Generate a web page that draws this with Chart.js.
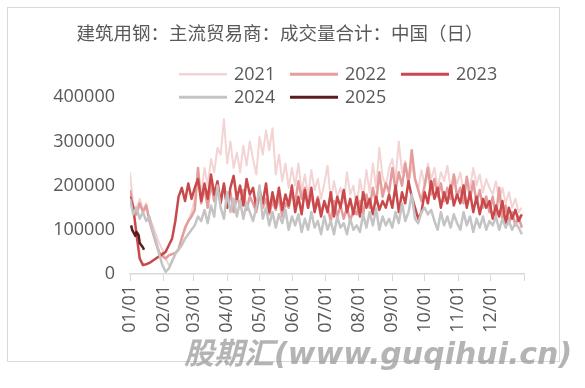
<!DOCTYPE html>
<html>
<head>
<meta charset="utf-8">
<script src="https://cdn.jsdelivr.net/npm/chart.js@4.4.1/dist/chart.umd.min.js"></script>
<style>
  body { margin: 0; background: #fff; width: 585px; height: 388px; overflow: hidden; position: relative; }
  #box { position: absolute; left: 7px; top: 7px; width: 551px; height: 353px; border: 1px solid #d9d9d9; }
  #mark { position: absolute; left: 184px; top: 337px; font: italic bold 30px "DejaVu Sans", "Noto Sans CJK SC", sans-serif; color: rgba(140, 140, 140, 0.65); white-space: nowrap; line-height: 34px; }
</style>
</head>
<body>
<div id="box"><canvas id="steelChart"></canvas></div>
<div id="mark">股期汇(www.guqihui.cn)</div>
<script>
// day of year for each reading (roughly every 3 days)
const days = [1,4,7,10,13,16,19,22,25,28,31,34,37,40,43,46,49,52,55,58,61,64,67,70,73,76,79,82,85,88,
  91,94,97,100,103,106,109,112,115,118,121,124,127,130,133,136,139,142,145,148,151,154,157,160,163,166,169,172,175,178,
  181,184,187,190,193,196,199,202,205,208,211,214,217,220,223,226,229,232,235,238,241,244,247,250,253,256,259,262,265,268,
  271,274,277,280,283,286,289,292,295,298,301,304,307,310,313,316,319,322,325,328,331,334,337,340,343,346,349,352,355,358,361,364];

const vol2021 = [230000,155000,150000,170000,145000,160000,125000,110000,90000,70000,55000,
  35000,20000,25000,45000,60000,85000,100000,120000,140000,
  170000,215000,185000,240000,200000,260000,230000,285000,270000,350000,
  250000,300000,240000,275000,230000,290000,245000,300000,260000,225000,
  310000,270000,325000,280000,330000,225000,270000,210000,250000,195000,240000,
  200000,250000,185000,225000,175000,235000,190000,215000,170000,205000,
  245000,165000,210000,175000,195000,160000,230000,180000,200000,150000,
  215000,170000,235000,185000,250000,195000,285000,220000,200000,240000,
  260000,215000,300000,230000,255000,205000,245000,215000,190000,235000,
  200000,250000,215000,240000,195000,230000,210000,245000,195000,225000,205000,
  230000,185000,215000,195000,240000,200000,225000,185000,215000,195000,
  180000,210000,165000,195000,160000,185000,150000,170000,140000,150000];

const vol2022 = [190000,150000,135000,160000,140000,155000,120000,95000,70000,50000,40000,
  35000,42000,45000,48000,55000,80000,105000,120000,130000,
  145000,240000,160000,195000,150000,205000,165000,190000,170000,200000,
  150000,185000,140000,175000,155000,190000,145000,175000,160000,140000,
  180000,150000,170000,135000,165000,145000,175000,130000,160000,150000,185000,
  160000,210000,170000,195000,150000,180000,145000,175000,140000,160000,
  150000,120000,165000,130000,155000,125000,150000,120000,145000,135000,
  165000,135000,180000,150000,195000,160000,230000,175000,205000,185000,
  240000,190000,230000,200000,250000,205000,280000,215000,190000,165000,
  200000,240000,180000,215000,175000,205000,165000,195000,170000,225000,175000,
  195000,160000,220000,170000,210000,160000,190000,150000,175000,140000,
  175000,130000,195000,125000,155000,115000,140000,110000,130000,105000];

const vol2023 = [175000,150000,90000,35000,20000,22000,25000,30000,35000,40000,45000,
  50000,65000,80000,120000,175000,195000,165000,205000,170000,
  195000,215000,165000,205000,170000,225000,180000,210000,160000,205000,
  150000,195000,222000,170000,200000,155000,215000,180000,195000,150000,
  190000,160000,205000,140000,185000,150000,195000,145000,180000,155000,200000,
  140000,175000,135000,190000,150000,195000,140000,170000,130000,165000,
  140000,185000,130000,175000,150000,190000,140000,170000,135000,175000,
  130000,185000,150000,170000,135000,175000,145000,165000,150000,180000,
  150000,200000,140000,185000,160000,210000,175000,150000,125000,140000,
  185000,160000,210000,170000,195000,150000,185000,160000,200000,155000,180000,
  160000,200000,150000,185000,140000,175000,135000,170000,150000,165000,
  125000,155000,130000,165000,115000,150000,125000,145000,120000,135000];

const vol2024 = [170000,135000,150000,125000,140000,120000,130000,100000,75000,45000,20000,
  5000,12000,30000,45000,55000,65000,80000,90000,100000,
  110000,130000,120000,145000,115000,155000,130000,200000,150000,125000,
  185000,140000,170000,130000,165000,125000,160000,140000,120000,150000,
  200000,125000,150000,110000,140000,105000,135000,115000,145000,100000,130000,
  110000,135000,95000,125000,100000,140000,105000,120000,90000,130000,
  100000,120000,90000,130000,105000,115000,90000,125000,100000,110000,
  95000,135000,105000,140000,110000,148000,100000,130000,110000,125000,
  105000,140000,115000,160000,120000,140000,180000,125000,115000,140000,
  150000,135000,145000,120000,100000,140000,110000,130000,105000,135000,115000,
  100000,140000,110000,130000,95000,125000,105000,130000,100000,120000,
  110000,130000,100000,125000,105000,120000,100000,115000,105000,90000];

const days2025 = [2,3,6,7,8,9,10,13,14];
const vol2025 = [110000,100000,86000,95000,92000,88000,70000,60000,55000];

const monthStarts = [1,32,60,91,121,152,182,213,244,274,305,335,366];
const monthLabels = ['01/01','02/01','03/01','04/01','05/01','06/01','07/01','08/01','09/01','10/01','11/01','12/01',''];

const seriesNames = ['2021','2022','2023','2024','2025'];
const seriesColors = ['#f3d3d3','#e49c9c','#c9494b','#c4c4c4','#5c1b1f'];
const seriesWidths = [2, 2.5, 2.5, 2.5, 2.5];

function toPoints(xs, ys) {
  return xs.map((x, i) => ({ x: x, y: ys[i] }));
}

const seriesData = [
  toPoints(days, vol2021),
  toPoints(days, vol2022),
  toPoints(days, vol2023),
  toPoints(days, vol2024),
  toPoints(days2025, vol2025)
];

const textColor = '#595959';
const tickFont = { family: '"Open Sans", sans-serif', size: 18 };

// legend drawn in two rows like the original (3 + 2)
const yearLegend = {
  id: 'yearLegend',
  afterDraw(chart) {
    const ctx = chart.ctx;
    const area = chart.chartArea;
    ctx.save();
    ctx.font = '18px "Open Sans", sans-serif';
    ctx.textBaseline = 'middle';
    ctx.fillStyle = textColor;
    chart.data.datasets.forEach((ds, k) => {
      const row = k < 3 ? 0 : 1;
      const col = k < 3 ? k : k - 3;
      const x0 = area.left + 49 + col * 111;
      const y0 = area.top - 23 + row * 23;
      ctx.strokeStyle = ds.borderColor;
      ctx.lineWidth = ds.borderWidth + 0.5;
      ctx.beginPath();
      ctx.moveTo(x0, y0);
      ctx.lineTo(x0 + 48, y0);
      ctx.stroke();
      ctx.fillText(ds.label, x0 + 55, y0 + 1);
    });
    ctx.restore();
  }
};

new Chart(document.getElementById('steelChart'), {
  type: 'line',
  data: {
    datasets: seriesNames.map((name, k) => ({
      label: name,
      data: seriesData[k],
      borderColor: seriesColors[k],
      backgroundColor: seriesColors[k],
      borderWidth: seriesWidths[k],
      pointRadius: 0,
      tension: 0,
      borderJoinStyle: 'round',
      order: seriesNames.length - k // later years on top
    }))
  },
  options: {
    responsive: true,
    maintainAspectRatio: false,
    animation: false,
    layout: { padding: { left: 0, right: 7, top: 0, bottom: 0 } },
    plugins: {
      legend: { display: false },
      tooltip: { enabled: false },
      title: {
        display: true,
        text: '建筑用钢：主流贸易商：成交量合计：中国（日）',
        color: textColor,
        font: { family: '"Noto Sans CJK SC", sans-serif', size: 18.5, weight: 'normal' },
        padding: { top: 14, bottom: 53 }
      }
    },
    scales: {
      x: {
        type: 'linear',
        min: 1,
        max: 366,
        afterBuildTicks: (scale) => { scale.ticks = monthStarts.map(v => ({ value: v })); },
        afterFit: (scale) => { scale.height = 87; },
        ticks: {
          autoSkip: false,
          minRotation: 90,
          maxRotation: 90,
          padding: 4,
          color: textColor,
          font: tickFont,
          callback: (v, i) => monthLabels[i]
        },
        grid: { drawOnChartArea: false, drawTicks: true, tickLength: 7, color: '#d9d9d9' },
        border: { display: true, color: '#d9d9d9', width: 1.5 }
      },
      y: {
        min: 0,
        max: 400000,
        afterFit: (scale) => { scale.width = 122; },
        ticks: {
          stepSize: 100000,
          padding: 15,
          color: textColor,
          font: tickFont,
          callback: (v) => String(v)
        },
        grid: { display: false, drawTicks: false },
        border: { display: false }
      },
      yRight: {
        position: 'right',
        display: true,
        afterFit: (scale) => { scale.width = 28; },
        ticks: { display: false },
        grid: { display: false, drawTicks: false },
        border: { display: false }
      }
    }
  },
  plugins: [yearLegend]
});
</script>
</body>
</html>
